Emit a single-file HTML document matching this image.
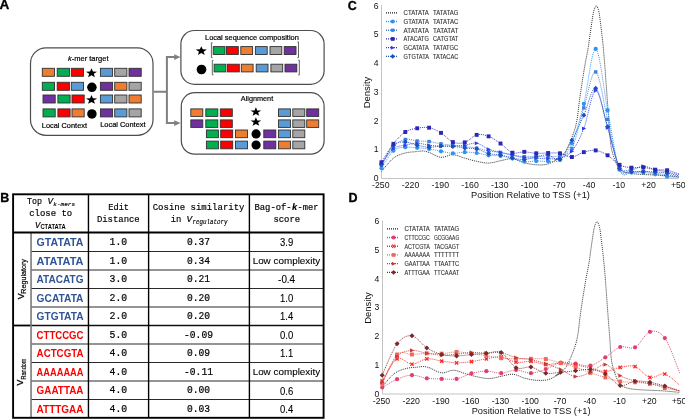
<!DOCTYPE html>
<html><head><meta charset="utf-8"><style>
html,body{margin:0;padding:0;background:#fff;width:685px;height:419px;overflow:hidden}
svg{display:block;filter:blur(0.3px)}

</style></head><body>
<svg width="685" height="419" viewBox="0 0 685 419">
<rect width="685" height="419" fill="#fff"/>
<text x="-0.60" y="9.20" font-family="Liberation Sans" font-size="13.6" font-weight="bold" fill="#000" text-anchor="start" stroke="#000" stroke-width="0.3">A</text>
<text x="0.20" y="201.50" font-family="Liberation Sans" font-size="12.5" font-weight="bold" fill="#000" text-anchor="start" stroke="#000" stroke-width="0.3">B</text>
<text x="347.80" y="10.30" font-family="Liberation Sans" font-size="12.5" font-weight="bold" fill="#000" text-anchor="start" stroke="#000" stroke-width="0.3">C</text>
<text x="348.50" y="201.60" font-family="Liberation Sans" font-size="12.5" font-weight="bold" fill="#000" text-anchor="start" stroke="#000" stroke-width="0.3">D</text>
<rect x="30.5" y="47.9" width="122.5" height="87.4" rx="15.5" ry="15.5" fill="none" stroke="#4d4d4d" stroke-width="1.2"/>
<rect x="180.9" y="30.5" width="143.2" height="53.8" rx="13.5" ry="13.5" fill="none" stroke="#4d4d4d" stroke-width="1.2"/>
<rect x="181.3" y="92.6" width="142.8" height="61.6" rx="13.5" ry="13.5" fill="none" stroke="#4d4d4d" stroke-width="1.2"/>
<path d="M153.5 91.8 H166.9 M166.9 56.1 V124.1 M166 57.1 H175 M166 123.1 H175" stroke="#808080" stroke-width="2" fill="none"/>
<polygon points="174.2,54.2 180.6,57.1 174.2,60.0" fill="#808080"/>
<polygon points="174.2,120.2 180.6,123.1 174.2,126.0" fill="#808080"/>
<text x="68.00" y="60.90" font-family="Liberation Sans" font-size="8.0" font-weight="normal" fill="#000" text-anchor="start" textLength="40.50" lengthAdjust="spacingAndGlyphs" stroke="#000" stroke-width="0.2"><tspan font-style="italic">k</tspan>-mer target</text>
<rect x="42.30" y="68.30" width="12.20" height="8.00" fill="#ED7D31" stroke="#303030" stroke-width="0.9"/>
<rect x="57.20" y="68.30" width="12.20" height="8.00" fill="#00B050" stroke="#303030" stroke-width="0.9"/>
<rect x="71.30" y="68.30" width="12.20" height="8.00" fill="#FF0000" stroke="#303030" stroke-width="0.9"/>
<polygon points="91.50,68.34 92.94,71.55 97.05,71.70 93.83,73.83 94.93,77.13 91.50,75.24 88.07,77.13 89.17,73.83 85.95,71.70 90.06,71.55" fill="#000"/>
<rect x="100.40" y="68.30" width="12.20" height="8.00" fill="#5B9BD5" stroke="#303030" stroke-width="0.9"/>
<rect x="114.70" y="68.30" width="12.20" height="8.00" fill="#A5A5A5" stroke="#303030" stroke-width="0.9"/>
<rect x="129.00" y="68.30" width="12.20" height="8.00" fill="#7030A0" stroke="#303030" stroke-width="0.9"/>
<rect x="42.30" y="82.30" width="12.20" height="8.00" fill="#00B050" stroke="#303030" stroke-width="0.9"/>
<rect x="57.20" y="82.30" width="12.20" height="8.00" fill="#FF0000" stroke="#303030" stroke-width="0.9"/>
<rect x="71.30" y="82.30" width="12.20" height="8.00" fill="#5B9BD5" stroke="#303030" stroke-width="0.9"/>
<circle cx="91.90" cy="87.30" r="4.75" fill="#000"/>
<rect x="100.40" y="82.30" width="12.20" height="8.00" fill="#7030A0" stroke="#303030" stroke-width="0.9"/>
<rect x="114.70" y="82.30" width="12.20" height="8.00" fill="#ED7D31" stroke="#303030" stroke-width="0.9"/>
<rect x="129.00" y="82.30" width="12.20" height="8.00" fill="#A5A5A5" stroke="#303030" stroke-width="0.9"/>
<rect x="43.00" y="95.00" width="12.20" height="8.00" fill="#7030A0" stroke="#303030" stroke-width="0.9"/>
<rect x="57.90" y="95.00" width="12.20" height="8.00" fill="#00B050" stroke="#303030" stroke-width="0.9"/>
<rect x="72.00" y="95.00" width="12.20" height="8.00" fill="#FF0000" stroke="#303030" stroke-width="0.9"/>
<polygon points="91.50,95.04 92.94,98.25 97.05,98.40 93.83,100.53 94.93,103.83 91.50,101.94 88.07,103.83 89.17,100.53 85.95,98.40 90.06,98.25" fill="#000"/>
<rect x="100.40" y="95.00" width="12.20" height="8.00" fill="#5B9BD5" stroke="#303030" stroke-width="0.9"/>
<rect x="114.70" y="95.00" width="12.20" height="8.00" fill="#A5A5A5" stroke="#303030" stroke-width="0.9"/>
<rect x="129.00" y="95.00" width="12.20" height="8.00" fill="#ED7D31" stroke="#303030" stroke-width="0.9"/>
<rect x="43.00" y="108.90" width="12.20" height="8.00" fill="#00B050" stroke="#303030" stroke-width="0.9"/>
<rect x="57.90" y="108.90" width="12.20" height="8.00" fill="#FF0000" stroke="#303030" stroke-width="0.9"/>
<rect x="72.00" y="108.90" width="12.20" height="8.00" fill="#ED7D31" stroke="#303030" stroke-width="0.9"/>
<circle cx="91.90" cy="113.90" r="4.75" fill="#000"/>
<rect x="100.40" y="108.90" width="12.20" height="8.00" fill="#7030A0" stroke="#303030" stroke-width="0.9"/>
<rect x="114.70" y="108.90" width="12.20" height="8.00" fill="#5B9BD5" stroke="#303030" stroke-width="0.9"/>
<rect x="129.00" y="108.90" width="12.20" height="8.00" fill="#A5A5A5" stroke="#303030" stroke-width="0.9"/>
<text x="41.80" y="127.90" font-family="Liberation Sans" font-size="7.9" font-weight="normal" fill="#000" text-anchor="start" textLength="45.20" lengthAdjust="spacingAndGlyphs" stroke="#000" stroke-width="0.2">Local Context</text>
<text x="100.20" y="127.00" font-family="Liberation Sans" font-size="7.9" font-weight="normal" fill="#000" text-anchor="start" textLength="45.40" lengthAdjust="spacingAndGlyphs" stroke="#000" stroke-width="0.2">Local Context</text>
<text x="205.00" y="39.70" font-family="Liberation Sans" font-size="7.9" font-weight="normal" fill="#000" text-anchor="start" textLength="93.80" lengthAdjust="spacingAndGlyphs" stroke="#000" stroke-width="0.2">Local sequence composition</text>
<polygon points="201.30,46.14 202.74,49.35 206.85,49.50 203.63,51.63 204.73,54.93 201.30,53.04 197.87,54.93 198.97,51.63 195.75,49.50 199.86,49.35" fill="#000"/>
<circle cx="201.50" cy="69.50" r="4.85" fill="#000"/>
<rect x="213.20" y="46.60" width="11.80" height="7.90" fill="#00B050" stroke="#303030" stroke-width="0.9"/>
<rect x="226.50" y="46.60" width="11.80" height="7.90" fill="#FF0000" stroke="#303030" stroke-width="0.9"/>
<rect x="240.80" y="46.60" width="11.80" height="7.90" fill="#ED7D31" stroke="#303030" stroke-width="0.9"/>
<rect x="255.40" y="46.60" width="11.80" height="7.90" fill="#5B9BD5" stroke="#303030" stroke-width="0.9"/>
<rect x="270.00" y="46.60" width="11.80" height="7.90" fill="#A5A5A5" stroke="#303030" stroke-width="0.9"/>
<rect x="284.20" y="46.60" width="11.80" height="7.90" fill="#7030A0" stroke="#303030" stroke-width="0.9"/>
<rect x="214.10" y="64.20" width="11.80" height="7.70" fill="#00B050" stroke="#303030" stroke-width="0.9"/>
<rect x="227.50" y="64.20" width="11.80" height="7.70" fill="#FF0000" stroke="#303030" stroke-width="0.9"/>
<rect x="241.30" y="64.20" width="11.80" height="7.70" fill="#ED7D31" stroke="#303030" stroke-width="0.9"/>
<rect x="256.20" y="64.20" width="11.80" height="7.70" fill="#5B9BD5" stroke="#303030" stroke-width="0.9"/>
<rect x="270.90" y="64.20" width="11.80" height="7.70" fill="#A5A5A5" stroke="#303030" stroke-width="0.9"/>
<rect x="285.00" y="64.20" width="11.80" height="7.70" fill="#7030A0" stroke="#303030" stroke-width="0.9"/>
<path d="M212.6 42.8 H211.4 V57.6 H212.6 M297.4 41.9 H298.5 V57.6 H297.4" stroke="#555" stroke-width="0.9" fill="none"/>
<path d="M213.5 60.4 H212.3 V74.8 H213.5 M298.2 60.2 H299.3 V75.0 H298.2" stroke="#555" stroke-width="0.9" fill="none"/>
<text x="240.80" y="101.30" font-family="Liberation Sans" font-size="7.9" font-weight="normal" fill="#000" text-anchor="start" textLength="32.40" lengthAdjust="spacingAndGlyphs" stroke="#000" stroke-width="0.2">Alignment</text>
<rect x="190.80" y="108.90" width="12.00" height="7.50" fill="#ED7D31" stroke="#303030" stroke-width="0.9"/>
<rect x="205.80" y="108.90" width="12.00" height="7.50" fill="#00B050" stroke="#303030" stroke-width="0.9"/>
<rect x="220.30" y="108.90" width="12.00" height="7.50" fill="#FF0000" stroke="#303030" stroke-width="0.9"/>
<rect x="278.50" y="108.90" width="12.00" height="7.50" fill="#5B9BD5" stroke="#303030" stroke-width="0.9"/>
<rect x="292.80" y="108.90" width="12.00" height="7.50" fill="#A5A5A5" stroke="#303030" stroke-width="0.9"/>
<rect x="306.70" y="108.90" width="12.00" height="7.50" fill="#7030A0" stroke="#303030" stroke-width="0.9"/>
<rect x="190.80" y="119.90" width="12.00" height="7.50" fill="#7030A0" stroke="#303030" stroke-width="0.9"/>
<rect x="205.80" y="119.90" width="12.00" height="7.50" fill="#00B050" stroke="#303030" stroke-width="0.9"/>
<rect x="220.30" y="119.90" width="12.00" height="7.50" fill="#FF0000" stroke="#303030" stroke-width="0.9"/>
<rect x="278.50" y="119.90" width="12.00" height="7.50" fill="#5B9BD5" stroke="#303030" stroke-width="0.9"/>
<rect x="292.80" y="119.90" width="12.00" height="7.50" fill="#A5A5A5" stroke="#303030" stroke-width="0.9"/>
<rect x="306.70" y="119.90" width="12.00" height="7.50" fill="#ED7D31" stroke="#303030" stroke-width="0.9"/>
<rect x="206.40" y="130.00" width="12.00" height="7.70" fill="#00B050" stroke="#303030" stroke-width="0.9"/>
<rect x="220.70" y="130.00" width="12.00" height="7.70" fill="#FF0000" stroke="#303030" stroke-width="0.9"/>
<rect x="235.50" y="130.00" width="12.00" height="7.70" fill="#ED7D31" stroke="#303030" stroke-width="0.9"/>
<rect x="263.80" y="130.00" width="12.00" height="7.70" fill="#7030A0" stroke="#303030" stroke-width="0.9"/>
<rect x="278.50" y="130.00" width="12.00" height="7.70" fill="#5B9BD5" stroke="#303030" stroke-width="0.9"/>
<rect x="292.80" y="130.00" width="12.00" height="7.70" fill="#A5A5A5" stroke="#303030" stroke-width="0.9"/>
<rect x="206.40" y="141.10" width="12.00" height="7.70" fill="#00B050" stroke="#303030" stroke-width="0.9"/>
<rect x="220.70" y="141.10" width="12.00" height="7.70" fill="#FF0000" stroke="#303030" stroke-width="0.9"/>
<rect x="235.50" y="141.10" width="12.00" height="7.70" fill="#5B9BD5" stroke="#303030" stroke-width="0.9"/>
<rect x="263.80" y="141.10" width="12.00" height="7.70" fill="#7030A0" stroke="#303030" stroke-width="0.9"/>
<rect x="278.50" y="141.10" width="12.00" height="7.70" fill="#ED7D31" stroke="#303030" stroke-width="0.9"/>
<rect x="292.80" y="141.10" width="12.00" height="7.70" fill="#A5A5A5" stroke="#303030" stroke-width="0.9"/>
<polygon points="255.90,107.32 257.29,110.41 261.24,110.55 258.14,112.61 259.20,115.79 255.90,113.97 252.60,115.79 253.66,112.61 250.56,110.55 254.51,110.41" fill="#000"/>
<polygon points="255.90,117.32 257.29,120.41 261.24,120.55 258.14,122.61 259.20,125.79 255.90,123.97 252.60,125.79 253.66,122.61 250.56,120.55 254.51,120.41" fill="#000"/>
<circle cx="256.10" cy="133.90" r="4.60" fill="#000"/>
<circle cx="256.10" cy="145.00" r="4.60" fill="#000"/>
<line x1="31" y1="251.42" x2="323.6" y2="251.42" stroke="#2a2a2a" stroke-width="1.05"/>
<line x1="31" y1="269.94" x2="323.6" y2="269.94" stroke="#2a2a2a" stroke-width="1.05"/>
<line x1="31" y1="288.46" x2="323.6" y2="288.46" stroke="#2a2a2a" stroke-width="1.05"/>
<line x1="31" y1="306.98" x2="323.6" y2="306.98" stroke="#2a2a2a" stroke-width="1.05"/>
<line x1="31" y1="344.02" x2="323.6" y2="344.02" stroke="#2a2a2a" stroke-width="1.05"/>
<line x1="31" y1="362.54" x2="323.6" y2="362.54" stroke="#2a2a2a" stroke-width="1.05"/>
<line x1="31" y1="381.06" x2="323.6" y2="381.06" stroke="#2a2a2a" stroke-width="1.05"/>
<line x1="31" y1="399.58" x2="323.6" y2="399.58" stroke="#2a2a2a" stroke-width="1.05"/>
<line x1="13.1" y1="325.50" x2="31.5" y2="325.50" stroke="#000" stroke-width="1.8"/>
<line x1="31" y1="325.50" x2="323.6" y2="325.50" stroke="#111" stroke-width="1.4"/>
<line x1="31.05" y1="232.5" x2="31.05" y2="417.8" stroke="#7a7a7a" stroke-width="1.6"/>
<line x1="88.45" y1="194.3" x2="88.45" y2="417.8" stroke="#000" stroke-width="1.4"/>
<line x1="148.6" y1="194.3" x2="148.6" y2="417.8" stroke="#000" stroke-width="1.4"/>
<line x1="249.4" y1="194.3" x2="249.4" y2="417.8" stroke="#000" stroke-width="1.4"/>
<line x1="13.1" y1="232.5" x2="323.6" y2="232.5" stroke="#000" stroke-width="1.8"/>
<rect x="13.1" y="194.3" width="310.50" height="223.50" fill="none" stroke="#000" stroke-width="1.9"/>
<text x="27.00" y="204.30" font-family="Liberation Mono" font-size="9.8" font-weight="normal" fill="#000" text-anchor="start" textLength="15.00" lengthAdjust="spacingAndGlyphs" stroke="#000" stroke-width="0.18">Top</text>
<text x="47.60" y="204.30" font-family="Liberation Mono" font-size="9.8" font-weight="normal" fill="#000" text-anchor="start" textLength="5.60" lengthAdjust="spacingAndGlyphs" font-style="italic" stroke="#000" stroke-width="0.18">V</text>
<text x="53.30" y="205.60" font-family="Liberation Mono" font-size="6.0" font-weight="normal" fill="#000" text-anchor="start" textLength="21.80" lengthAdjust="spacingAndGlyphs" font-style="italic" stroke="#000" stroke-width="0.15">k-mers</text>
<text x="29.20" y="216.00" font-family="Liberation Mono" font-size="9.8" font-weight="normal" fill="#000" text-anchor="start" textLength="43.00" lengthAdjust="spacingAndGlyphs" stroke="#000" stroke-width="0.18">close to</text>
<text x="35.00" y="227.80" font-family="Liberation Mono" font-size="9.8" font-weight="normal" fill="#000" text-anchor="start" textLength="5.30" lengthAdjust="spacingAndGlyphs" font-style="italic" stroke="#000" stroke-width="0.18">V</text>
<text x="40.40" y="228.80" font-family="Liberation Sans" font-size="6.6" font-weight="bold" fill="#000" text-anchor="start" textLength="25.20" lengthAdjust="spacingAndGlyphs">CTATATA</text>
<text x="108.20" y="209.80" font-family="Liberation Mono" font-size="9.8" font-weight="normal" fill="#000" text-anchor="start" textLength="20.90" lengthAdjust="spacingAndGlyphs" stroke="#000" stroke-width="0.18">Edit</text>
<text x="96.90" y="222.20" font-family="Liberation Mono" font-size="9.8" font-weight="normal" fill="#000" text-anchor="start" textLength="42.80" lengthAdjust="spacingAndGlyphs" stroke="#000" stroke-width="0.18">Distance</text>
<text x="152.70" y="209.80" font-family="Liberation Mono" font-size="9.8" font-weight="normal" fill="#000" text-anchor="start" textLength="91.80" lengthAdjust="spacingAndGlyphs" stroke="#000" stroke-width="0.18">Cosine similarity</text>
<text x="170.80" y="222.20" font-family="Liberation Mono" font-size="9.8" font-weight="normal" fill="#000" text-anchor="start" textLength="10.60" lengthAdjust="spacingAndGlyphs" stroke="#000" stroke-width="0.18">in</text>
<text x="186.50" y="222.20" font-family="Liberation Mono" font-size="9.8" font-weight="normal" fill="#000" text-anchor="start" textLength="5.60" lengthAdjust="spacingAndGlyphs" font-style="italic" stroke="#000" stroke-width="0.18">V</text>
<text x="192.50" y="223.80" font-family="Liberation Mono" font-size="6.8" font-weight="normal" fill="#000" text-anchor="start" textLength="35.00" lengthAdjust="spacingAndGlyphs" font-style="italic" stroke="#000" stroke-width="0.15">regulatory</text>
<text x="254.40" y="209.80" font-family="Liberation Mono" font-size="9.8" font-weight="normal" fill="#000" text-anchor="start" textLength="37.30" lengthAdjust="spacingAndGlyphs" stroke="#000" stroke-width="0.18">Bag-of-</text>
<text x="292.00" y="209.80" font-family="Liberation Mono" font-size="9.8" font-weight="bold" fill="#000" text-anchor="start" textLength="5.30" lengthAdjust="spacingAndGlyphs" font-style="italic" stroke="#000" stroke-width="0.18">k</text>
<text x="297.50" y="209.80" font-family="Liberation Mono" font-size="9.8" font-weight="normal" fill="#000" text-anchor="start" textLength="21.00" lengthAdjust="spacingAndGlyphs" stroke="#000" stroke-width="0.18">-mer</text>
<text x="273.40" y="222.20" font-family="Liberation Mono" font-size="9.8" font-weight="normal" fill="#000" text-anchor="start" textLength="26.80" lengthAdjust="spacingAndGlyphs" stroke="#000" stroke-width="0.18">score</text>
<g transform="translate(23.7,299.3) rotate(-90)"><text x="0" y="0" font-family="Liberation Sans" font-size="8.6" stroke="#000" stroke-width="0.3" textLength="5.8" lengthAdjust="spacingAndGlyphs">V</text><text x="5.6" y="2.6" font-family="Liberation Sans" font-size="6.9" stroke="#000" stroke-width="0.2" textLength="34.6" lengthAdjust="spacingAndGlyphs">Regulatory</text></g>
<g transform="translate(22.9,385.4) rotate(-90)"><text x="0" y="0" font-family="Liberation Sans" font-size="8.2" stroke="#000" stroke-width="0.3" textLength="5.8" lengthAdjust="spacingAndGlyphs">V</text><text x="5.9" y="2.9" font-family="Liberation Sans" font-size="6.6" stroke="#000" stroke-width="0.2" textLength="20.9" lengthAdjust="spacingAndGlyphs">Random</text></g>
<text x="36.60" y="245.91" font-family="Liberation Sans" font-size="11.8" font-weight="bold" fill="#2F5597" text-anchor="start" textLength="46.90" lengthAdjust="spacingAndGlyphs">GTATATA</text>
<text x="118.40" y="244.76" font-family="Liberation Mono" font-size="10.4" font-weight="normal" fill="#000" text-anchor="middle" textLength="17.60" lengthAdjust="spacingAndGlyphs" stroke="#000" stroke-width="0.22">1.0</text>
<text x="198.50" y="244.76" font-family="Liberation Mono" font-size="10.4" font-weight="normal" fill="#000" text-anchor="middle" textLength="23.10" lengthAdjust="spacingAndGlyphs" stroke="#000" stroke-width="0.22">0.37</text>
<text x="286.60" y="245.96" font-family="Liberation Sans" font-size="10.6" font-weight="normal" fill="#000" text-anchor="middle" textLength="13.20" lengthAdjust="spacingAndGlyphs" stroke="#000" stroke-width="0.1">3.9</text>
<text x="36.60" y="264.83" font-family="Liberation Sans" font-size="11.8" font-weight="bold" fill="#2F5597" text-anchor="start" textLength="46.90" lengthAdjust="spacingAndGlyphs">ATATATA</text>
<text x="118.40" y="263.68" font-family="Liberation Mono" font-size="10.4" font-weight="normal" fill="#000" text-anchor="middle" textLength="17.60" lengthAdjust="spacingAndGlyphs" stroke="#000" stroke-width="0.22">1.0</text>
<text x="198.50" y="263.68" font-family="Liberation Mono" font-size="10.4" font-weight="normal" fill="#000" text-anchor="middle" textLength="23.10" lengthAdjust="spacingAndGlyphs" stroke="#000" stroke-width="0.22">0.34</text>
<text x="286.40" y="264.28" font-family="Liberation Sans" font-size="9.8" font-weight="normal" fill="#000" text-anchor="middle" textLength="67.50" lengthAdjust="spacingAndGlyphs" stroke="#000" stroke-width="0.1">Low complexity</text>
<text x="36.60" y="283.35" font-family="Liberation Sans" font-size="11.8" font-weight="bold" fill="#2F5597" text-anchor="start" textLength="46.90" lengthAdjust="spacingAndGlyphs">ATACATG</text>
<text x="118.40" y="282.20" font-family="Liberation Mono" font-size="10.4" font-weight="normal" fill="#000" text-anchor="middle" textLength="17.60" lengthAdjust="spacingAndGlyphs" stroke="#000" stroke-width="0.22">3.0</text>
<text x="198.50" y="282.20" font-family="Liberation Mono" font-size="10.4" font-weight="normal" fill="#000" text-anchor="middle" textLength="23.10" lengthAdjust="spacingAndGlyphs" stroke="#000" stroke-width="0.22">0.21</text>
<text x="286.60" y="283.40" font-family="Liberation Sans" font-size="10.6" font-weight="normal" fill="#000" text-anchor="middle" textLength="17.00" lengthAdjust="spacingAndGlyphs" stroke="#000" stroke-width="0.1">-0.4</text>
<text x="36.60" y="301.87" font-family="Liberation Sans" font-size="11.8" font-weight="bold" fill="#2F5597" text-anchor="start" textLength="46.90" lengthAdjust="spacingAndGlyphs">GCATATA</text>
<text x="118.40" y="300.72" font-family="Liberation Mono" font-size="10.4" font-weight="normal" fill="#000" text-anchor="middle" textLength="17.60" lengthAdjust="spacingAndGlyphs" stroke="#000" stroke-width="0.22">2.0</text>
<text x="198.50" y="300.72" font-family="Liberation Mono" font-size="10.4" font-weight="normal" fill="#000" text-anchor="middle" textLength="23.10" lengthAdjust="spacingAndGlyphs" stroke="#000" stroke-width="0.22">0.20</text>
<text x="286.60" y="301.92" font-family="Liberation Sans" font-size="10.6" font-weight="normal" fill="#000" text-anchor="middle" textLength="13.20" lengthAdjust="spacingAndGlyphs" stroke="#000" stroke-width="0.1">1.0</text>
<text x="36.60" y="320.39" font-family="Liberation Sans" font-size="11.8" font-weight="bold" fill="#2F5597" text-anchor="start" textLength="46.90" lengthAdjust="spacingAndGlyphs">GTGTATA</text>
<text x="118.40" y="319.24" font-family="Liberation Mono" font-size="10.4" font-weight="normal" fill="#000" text-anchor="middle" textLength="17.60" lengthAdjust="spacingAndGlyphs" stroke="#000" stroke-width="0.22">2.0</text>
<text x="198.50" y="319.24" font-family="Liberation Mono" font-size="10.4" font-weight="normal" fill="#000" text-anchor="middle" textLength="23.10" lengthAdjust="spacingAndGlyphs" stroke="#000" stroke-width="0.22">0.20</text>
<text x="286.60" y="320.44" font-family="Liberation Sans" font-size="10.6" font-weight="normal" fill="#000" text-anchor="middle" textLength="13.20" lengthAdjust="spacingAndGlyphs" stroke="#000" stroke-width="0.1">1.4</text>
<text x="36.60" y="338.91" font-family="Liberation Sans" font-size="11.8" font-weight="bold" fill="#FF0000" text-anchor="start" textLength="46.90" lengthAdjust="spacingAndGlyphs">CTTCCGC</text>
<text x="118.40" y="337.76" font-family="Liberation Mono" font-size="10.4" font-weight="normal" fill="#000" text-anchor="middle" textLength="17.60" lengthAdjust="spacingAndGlyphs" stroke="#000" stroke-width="0.22">5.0</text>
<text x="198.50" y="337.76" font-family="Liberation Mono" font-size="10.4" font-weight="normal" fill="#000" text-anchor="middle" textLength="28.95" lengthAdjust="spacingAndGlyphs" stroke="#000" stroke-width="0.22">-0.09</text>
<text x="286.60" y="338.96" font-family="Liberation Sans" font-size="10.6" font-weight="normal" fill="#000" text-anchor="middle" textLength="13.20" lengthAdjust="spacingAndGlyphs" stroke="#000" stroke-width="0.1">0.0</text>
<text x="36.60" y="357.43" font-family="Liberation Sans" font-size="11.8" font-weight="bold" fill="#FF0000" text-anchor="start" textLength="46.90" lengthAdjust="spacingAndGlyphs">ACTCGTA</text>
<text x="118.40" y="356.28" font-family="Liberation Mono" font-size="10.4" font-weight="normal" fill="#000" text-anchor="middle" textLength="17.60" lengthAdjust="spacingAndGlyphs" stroke="#000" stroke-width="0.22">4.0</text>
<text x="198.50" y="356.28" font-family="Liberation Mono" font-size="10.4" font-weight="normal" fill="#000" text-anchor="middle" textLength="23.10" lengthAdjust="spacingAndGlyphs" stroke="#000" stroke-width="0.22">0.09</text>
<text x="286.60" y="357.48" font-family="Liberation Sans" font-size="10.6" font-weight="normal" fill="#000" text-anchor="middle" textLength="13.20" lengthAdjust="spacingAndGlyphs" stroke="#000" stroke-width="0.1">1.1</text>
<text x="36.60" y="375.95" font-family="Liberation Sans" font-size="11.8" font-weight="bold" fill="#FF0000" text-anchor="start" textLength="46.90" lengthAdjust="spacingAndGlyphs">AAAAAAA</text>
<text x="118.40" y="374.80" font-family="Liberation Mono" font-size="10.4" font-weight="normal" fill="#000" text-anchor="middle" textLength="17.60" lengthAdjust="spacingAndGlyphs" stroke="#000" stroke-width="0.22">4.0</text>
<text x="198.50" y="374.80" font-family="Liberation Mono" font-size="10.4" font-weight="normal" fill="#000" text-anchor="middle" textLength="28.95" lengthAdjust="spacingAndGlyphs" stroke="#000" stroke-width="0.22">-0.11</text>
<text x="286.40" y="375.40" font-family="Liberation Sans" font-size="9.8" font-weight="normal" fill="#000" text-anchor="middle" textLength="67.50" lengthAdjust="spacingAndGlyphs" stroke="#000" stroke-width="0.1">Low complexity</text>
<text x="36.60" y="394.47" font-family="Liberation Sans" font-size="11.8" font-weight="bold" fill="#FF0000" text-anchor="start" textLength="46.90" lengthAdjust="spacingAndGlyphs">GAATTAA</text>
<text x="118.40" y="393.32" font-family="Liberation Mono" font-size="10.4" font-weight="normal" fill="#000" text-anchor="middle" textLength="17.60" lengthAdjust="spacingAndGlyphs" stroke="#000" stroke-width="0.22">4.0</text>
<text x="198.50" y="393.32" font-family="Liberation Mono" font-size="10.4" font-weight="normal" fill="#000" text-anchor="middle" textLength="23.10" lengthAdjust="spacingAndGlyphs" stroke="#000" stroke-width="0.22">0.00</text>
<text x="286.60" y="394.52" font-family="Liberation Sans" font-size="10.6" font-weight="normal" fill="#000" text-anchor="middle" textLength="13.20" lengthAdjust="spacingAndGlyphs" stroke="#000" stroke-width="0.1">0.6</text>
<text x="36.60" y="412.99" font-family="Liberation Sans" font-size="11.8" font-weight="bold" fill="#FF0000" text-anchor="start" textLength="46.90" lengthAdjust="spacingAndGlyphs">ATTTGAA</text>
<text x="118.40" y="411.84" font-family="Liberation Mono" font-size="10.4" font-weight="normal" fill="#000" text-anchor="middle" textLength="17.60" lengthAdjust="spacingAndGlyphs" stroke="#000" stroke-width="0.22">4.0</text>
<text x="198.50" y="411.84" font-family="Liberation Mono" font-size="10.4" font-weight="normal" fill="#000" text-anchor="middle" textLength="23.10" lengthAdjust="spacingAndGlyphs" stroke="#000" stroke-width="0.22">0.03</text>
<text x="286.60" y="413.04" font-family="Liberation Sans" font-size="10.6" font-weight="normal" fill="#000" text-anchor="middle" textLength="13.20" lengthAdjust="spacingAndGlyphs" stroke="#000" stroke-width="0.1">0.4</text>
<line x1="381.50" y1="5.10" x2="381.50" y2="178.30" stroke="#c4c4c4" stroke-width="1"/>
<line x1="381.50" y1="178.50" x2="678.70" y2="178.50" stroke="#c4c4c4" stroke-width="1.2"/>
<text x="378.50" y="181.05" font-family="Liberation Sans" font-size="8.6" font-weight="normal" fill="#111" text-anchor="end">0</text>
<text x="378.50" y="152.30" font-family="Liberation Sans" font-size="8.6" font-weight="normal" fill="#111" text-anchor="end">1</text>
<text x="378.50" y="123.55" font-family="Liberation Sans" font-size="8.6" font-weight="normal" fill="#111" text-anchor="end">2</text>
<text x="378.50" y="94.80" font-family="Liberation Sans" font-size="8.6" font-weight="normal" fill="#111" text-anchor="end">3</text>
<text x="378.50" y="66.05" font-family="Liberation Sans" font-size="8.6" font-weight="normal" fill="#111" text-anchor="end">4</text>
<text x="378.50" y="37.30" font-family="Liberation Sans" font-size="8.6" font-weight="normal" fill="#111" text-anchor="end">5</text>
<text x="378.50" y="8.55" font-family="Liberation Sans" font-size="8.6" font-weight="normal" fill="#111" text-anchor="end">6</text>
<text x="380.80" y="188.20" font-family="Liberation Sans" font-size="8.7" font-weight="normal" fill="#111" text-anchor="middle">-250</text>
<text x="410.55" y="188.20" font-family="Liberation Sans" font-size="8.7" font-weight="normal" fill="#111" text-anchor="middle">-220</text>
<text x="440.30" y="188.20" font-family="Liberation Sans" font-size="8.7" font-weight="normal" fill="#111" text-anchor="middle">-190</text>
<text x="470.05" y="188.20" font-family="Liberation Sans" font-size="8.7" font-weight="normal" fill="#111" text-anchor="middle">-160</text>
<text x="499.80" y="188.20" font-family="Liberation Sans" font-size="8.7" font-weight="normal" fill="#111" text-anchor="middle">-130</text>
<text x="529.55" y="188.20" font-family="Liberation Sans" font-size="8.7" font-weight="normal" fill="#111" text-anchor="middle">-100</text>
<text x="559.31" y="188.20" font-family="Liberation Sans" font-size="8.7" font-weight="normal" fill="#111" text-anchor="middle">-70</text>
<text x="589.06" y="188.20" font-family="Liberation Sans" font-size="8.7" font-weight="normal" fill="#111" text-anchor="middle">-40</text>
<text x="618.81" y="188.20" font-family="Liberation Sans" font-size="8.7" font-weight="normal" fill="#111" text-anchor="middle">-10</text>
<text x="648.56" y="188.20" font-family="Liberation Sans" font-size="8.7" font-weight="normal" fill="#111" text-anchor="middle">+20</text>
<text x="678.31" y="188.20" font-family="Liberation Sans" font-size="8.7" font-weight="normal" fill="#111" text-anchor="middle">+50</text>
<text x="471.00" y="198.20" font-family="Liberation Sans" font-size="9.0" font-weight="normal" fill="#111" text-anchor="start" textLength="118.90" lengthAdjust="spacingAndGlyphs">Position Relative to TSS (+1)</text>
<text transform="translate(370.20,108.30) rotate(-90)" font-family="Liberation Sans" font-size="9" fill="#111" textLength="31.6" lengthAdjust="spacingAndGlyphs">Density</text>
<path d="M381.50 171.40 C383.48 169.20 389.43 161.24 393.40 158.18 C397.37 155.11 401.33 154.10 405.30 153.00 C409.27 151.90 414.23 151.90 417.20 151.56 C420.18 151.23 421.17 150.84 423.15 150.99 C425.13 151.13 426.13 151.37 429.10 152.43 C432.08 153.48 437.04 156.93 441.00 157.31 C444.97 157.70 448.94 154.58 452.90 154.73 C456.87 154.87 460.84 157.07 464.80 158.18 C468.77 159.28 472.74 160.52 476.70 161.34 C480.67 162.15 484.64 163.16 488.60 163.06 C492.57 162.97 496.54 161.48 500.50 160.76 C504.47 160.04 508.44 158.41 512.40 158.75 C516.37 159.09 520.34 161.77 524.30 162.78 C528.27 163.78 532.24 164.60 536.21 164.79 C540.17 164.98 544.14 165.12 548.11 163.93 C552.07 162.73 558.86 158.27 560.01 157.60 C561.16 156.93 554.42 160.52 555.00 159.90 C555.58 159.28 561.30 156.16 563.50 153.86 C565.70 151.56 566.38 149.98 568.20 146.10 C570.02 142.22 572.88 135.27 574.40 130.58 C575.92 125.88 576.50 122.62 577.30 117.93 C578.10 113.23 578.42 108.20 579.20 102.40 C579.98 96.60 581.02 89.51 582.00 83.14 C582.98 76.76 584.07 70.06 585.10 64.16 C586.13 58.27 587.40 52.52 588.20 47.78 C589.00 43.03 589.33 39.68 589.90 35.70 C590.47 31.72 590.98 27.89 591.60 23.91 C592.22 19.94 592.82 14.86 593.60 11.84 C594.38 8.82 595.42 5.80 596.30 5.80 C597.18 5.80 598.18 8.82 598.90 11.84 C599.62 14.86 600.08 19.94 600.60 23.91 C601.12 27.89 601.55 31.72 602.00 35.70 C602.45 39.68 602.85 43.03 603.30 47.78 C603.75 52.52 604.23 58.27 604.70 64.16 C605.17 70.06 605.63 76.76 606.10 83.14 C606.57 89.51 607.02 96.03 607.50 102.40 C607.98 108.77 608.42 114.09 609.00 121.38 C609.58 128.66 609.90 139.39 611.00 146.10 C612.10 152.81 614.07 157.74 615.60 161.62 C617.13 165.51 618.23 167.52 620.20 169.39 C622.17 171.26 624.25 172.02 627.44 172.84 C630.63 173.65 635.38 173.94 639.34 174.28 C643.31 174.61 647.28 174.66 651.24 174.85 C655.21 175.04 658.51 175.09 663.14 175.43 C667.77 175.76 676.37 176.62 679.01 176.86" fill="none" stroke="#1a1a1a" stroke-width="0.9" stroke-dasharray="1 1"/>
<path d="M381.50 168.24 C383.48 165.31 389.43 154.20 393.40 150.70 C397.37 147.20 401.33 147.73 405.30 147.25 C409.27 146.77 413.23 147.54 417.20 147.83 C421.17 148.11 425.13 148.40 429.10 148.98 C433.07 149.55 437.04 150.56 441.00 151.28 C444.97 151.99 448.94 153.14 452.90 153.29 C456.87 153.43 460.84 152.19 464.80 152.14 C468.77 152.09 472.74 152.47 476.70 153.00 C480.67 153.53 484.64 154.82 488.60 155.30 C492.57 155.78 496.54 155.35 500.50 155.88 C504.47 156.40 508.44 157.50 512.40 158.46 C516.37 159.42 520.34 161.19 524.30 161.62 C528.27 162.06 532.24 161.10 536.21 161.05 C540.17 161.00 544.14 161.53 548.11 161.34 C552.07 161.15 556.04 162.92 560.01 159.90 C563.97 156.88 567.94 152.57 571.91 143.23 C575.87 133.88 579.84 119.55 583.81 103.84 C587.77 88.12 591.74 47.87 595.71 48.93 C599.67 49.98 603.64 90.04 607.61 110.16 C611.57 130.29 615.54 159.28 619.51 169.68 C623.47 180.07 627.44 172.07 631.41 172.55 C635.38 173.03 639.34 172.26 643.31 172.55 C647.28 172.84 651.24 173.60 655.21 174.28 C659.18 174.95 663.14 176.05 667.11 176.58 C671.08 177.10 677.03 177.29 679.01 177.44" fill="none" stroke="#2b93f5" stroke-width="0.9" stroke-dasharray="1 1"/>
<circle cx="381.50" cy="168.24" r="2.10" fill="#2b93f5"/>
<circle cx="393.40" cy="150.70" r="2.10" fill="#2b93f5"/>
<circle cx="405.30" cy="147.25" r="2.10" fill="#2b93f5"/>
<circle cx="417.20" cy="147.83" r="2.10" fill="#2b93f5"/>
<circle cx="429.10" cy="148.98" r="2.10" fill="#2b93f5"/>
<circle cx="441.00" cy="151.28" r="2.10" fill="#2b93f5"/>
<circle cx="452.90" cy="153.29" r="2.10" fill="#2b93f5"/>
<circle cx="464.80" cy="152.14" r="2.10" fill="#2b93f5"/>
<circle cx="476.70" cy="153.00" r="2.10" fill="#2b93f5"/>
<circle cx="488.60" cy="155.30" r="2.10" fill="#2b93f5"/>
<circle cx="500.50" cy="155.88" r="2.10" fill="#2b93f5"/>
<circle cx="512.40" cy="158.46" r="2.10" fill="#2b93f5"/>
<circle cx="524.30" cy="161.62" r="2.10" fill="#2b93f5"/>
<circle cx="536.21" cy="161.05" r="2.10" fill="#2b93f5"/>
<circle cx="548.11" cy="161.34" r="2.10" fill="#2b93f5"/>
<circle cx="560.01" cy="159.90" r="2.10" fill="#2b93f5"/>
<circle cx="571.91" cy="143.23" r="2.10" fill="#2b93f5"/>
<circle cx="583.81" cy="103.84" r="2.10" fill="#2b93f5"/>
<circle cx="595.71" cy="48.93" r="2.10" fill="#2b93f5"/>
<circle cx="607.61" cy="110.16" r="2.10" fill="#2b93f5"/>
<circle cx="619.51" cy="169.68" r="2.10" fill="#2b93f5"/>
<circle cx="631.41" cy="172.55" r="2.10" fill="#2b93f5"/>
<circle cx="643.31" cy="172.55" r="2.10" fill="#2b93f5"/>
<circle cx="655.21" cy="174.28" r="2.10" fill="#2b93f5"/>
<circle cx="667.11" cy="176.58" r="2.10" fill="#2b93f5"/>
<path d="M381.50 165.36 C383.48 162.25 389.43 150.99 393.40 146.68 C397.37 142.36 401.33 140.45 405.30 139.49 C409.27 138.53 413.23 140.59 417.20 140.93 C421.17 141.26 425.13 141.02 429.10 141.50 C433.07 141.98 437.04 143.18 441.00 143.80 C444.97 144.42 448.94 144.76 452.90 145.24 C456.87 145.72 460.84 146.20 464.80 146.68 C468.77 147.15 472.74 147.39 476.70 148.11 C480.67 148.83 484.64 150.27 488.60 150.99 C492.57 151.71 496.54 151.80 500.50 152.43 C504.47 153.05 508.44 154.01 512.40 154.73 C516.37 155.44 520.34 156.50 524.30 156.74 C528.27 156.98 532.24 156.11 536.21 156.16 C540.17 156.21 544.14 157.17 548.11 157.03 C552.07 156.88 556.04 156.74 560.01 155.30 C563.97 153.86 567.94 156.31 571.91 148.40 C575.87 140.49 579.84 120.61 583.81 107.86 C587.77 95.12 591.74 70.01 595.71 71.93 C599.67 73.84 603.64 103.17 607.61 119.36 C611.57 135.56 615.54 160.33 619.51 169.10 C623.47 177.87 627.44 171.59 631.41 171.98 C635.38 172.36 639.34 171.21 643.31 171.40 C647.28 171.59 651.24 172.55 655.21 173.12 C659.18 173.70 663.14 174.23 667.11 174.85 C671.08 175.47 677.03 176.53 679.01 176.86" fill="none" stroke="#3d7fdc" stroke-width="0.9" stroke-dasharray="1 1"/>
<rect x="379.80" y="163.66" width="3.40" height="3.40" fill="#3d7fdc"/>
<rect x="391.70" y="144.98" width="3.40" height="3.40" fill="#3d7fdc"/>
<rect x="403.60" y="137.79" width="3.40" height="3.40" fill="#3d7fdc"/>
<rect x="415.50" y="139.23" width="3.40" height="3.40" fill="#3d7fdc"/>
<rect x="427.40" y="139.80" width="3.40" height="3.40" fill="#3d7fdc"/>
<rect x="439.30" y="142.10" width="3.40" height="3.40" fill="#3d7fdc"/>
<rect x="451.20" y="143.54" width="3.40" height="3.40" fill="#3d7fdc"/>
<rect x="463.10" y="144.98" width="3.40" height="3.40" fill="#3d7fdc"/>
<rect x="475.00" y="146.41" width="3.40" height="3.40" fill="#3d7fdc"/>
<rect x="486.90" y="149.29" width="3.40" height="3.40" fill="#3d7fdc"/>
<rect x="498.80" y="150.73" width="3.40" height="3.40" fill="#3d7fdc"/>
<rect x="510.70" y="153.03" width="3.40" height="3.40" fill="#3d7fdc"/>
<rect x="522.60" y="155.04" width="3.40" height="3.40" fill="#3d7fdc"/>
<rect x="534.51" y="154.46" width="3.40" height="3.40" fill="#3d7fdc"/>
<rect x="546.41" y="155.33" width="3.40" height="3.40" fill="#3d7fdc"/>
<rect x="558.31" y="153.60" width="3.40" height="3.40" fill="#3d7fdc"/>
<rect x="570.21" y="146.70" width="3.40" height="3.40" fill="#3d7fdc"/>
<rect x="582.11" y="106.16" width="3.40" height="3.40" fill="#3d7fdc"/>
<rect x="594.01" y="70.23" width="3.40" height="3.40" fill="#3d7fdc"/>
<rect x="605.91" y="117.66" width="3.40" height="3.40" fill="#3d7fdc"/>
<rect x="617.81" y="167.40" width="3.40" height="3.40" fill="#3d7fdc"/>
<rect x="629.71" y="170.28" width="3.40" height="3.40" fill="#3d7fdc"/>
<rect x="641.61" y="169.70" width="3.40" height="3.40" fill="#3d7fdc"/>
<rect x="653.51" y="171.43" width="3.40" height="3.40" fill="#3d7fdc"/>
<rect x="665.41" y="173.15" width="3.40" height="3.40" fill="#3d7fdc"/>
<path d="M381.50 163.93 C383.48 161.39 389.43 151.80 393.40 148.69 C397.37 145.57 401.33 146.15 405.30 145.24 C409.27 144.33 413.23 143.23 417.20 143.23 C421.17 143.23 425.13 144.76 429.10 145.24 C433.07 145.72 437.04 145.96 441.00 146.10 C444.97 146.24 448.94 146.24 452.90 146.10 C456.87 145.96 460.84 145.72 464.80 145.24 C468.77 144.76 472.74 142.55 476.70 143.23 C480.67 143.90 484.64 147.73 488.60 149.26 C492.57 150.80 496.54 151.42 500.50 152.43 C504.47 153.43 508.44 154.44 512.40 155.30 C516.37 156.16 520.34 157.12 524.30 157.60 C528.27 158.08 532.24 157.98 536.21 158.18 C540.17 158.37 544.14 158.75 548.11 158.75 C552.07 158.75 556.04 159.42 560.01 158.18 C563.97 156.93 567.94 156.21 571.91 151.28 C575.87 146.34 579.84 138.67 583.81 128.56 C587.77 118.45 591.74 90.76 595.71 90.61 C599.67 90.47 603.64 115.00 607.61 127.70 C611.57 140.40 615.54 159.80 619.51 166.80 C623.47 173.80 627.44 169.77 631.41 169.68 C635.38 169.58 639.34 166.23 643.31 166.23 C647.28 166.23 651.24 168.72 655.21 169.68 C659.18 170.63 663.14 171.11 667.11 171.98 C671.08 172.84 677.03 174.37 679.01 174.85" fill="none" stroke="#2a3ef0" stroke-width="0.9" stroke-dasharray="1 1"/>
<polygon points="379.61,161.83 383.81,163.93 379.61,166.03" fill="#2a3ef0"/>
<polygon points="391.51,146.59 395.71,148.69 391.51,150.79" fill="#2a3ef0"/>
<polygon points="403.41,143.14 407.61,145.24 403.41,147.34" fill="#2a3ef0"/>
<polygon points="415.31,141.13 419.51,143.23 415.31,145.33" fill="#2a3ef0"/>
<polygon points="427.21,143.14 431.41,145.24 427.21,147.34" fill="#2a3ef0"/>
<polygon points="439.11,144.00 443.31,146.10 439.11,148.20" fill="#2a3ef0"/>
<polygon points="451.01,144.00 455.21,146.10 451.01,148.20" fill="#2a3ef0"/>
<polygon points="462.91,143.14 467.11,145.24 462.91,147.34" fill="#2a3ef0"/>
<polygon points="474.81,141.13 479.01,143.23 474.81,145.33" fill="#2a3ef0"/>
<polygon points="486.71,147.16 490.91,149.26 486.71,151.36" fill="#2a3ef0"/>
<polygon points="498.61,150.33 502.81,152.43 498.61,154.53" fill="#2a3ef0"/>
<polygon points="510.51,153.20 514.71,155.30 510.51,157.40" fill="#2a3ef0"/>
<polygon points="522.41,155.50 526.61,157.60 522.41,159.70" fill="#2a3ef0"/>
<polygon points="534.32,156.08 538.52,158.18 534.32,160.28" fill="#2a3ef0"/>
<polygon points="546.22,156.65 550.42,158.75 546.22,160.85" fill="#2a3ef0"/>
<polygon points="558.12,156.08 562.32,158.18 558.12,160.28" fill="#2a3ef0"/>
<polygon points="570.02,149.18 574.22,151.28 570.02,153.38" fill="#2a3ef0"/>
<polygon points="581.92,126.46 586.12,128.56 581.92,130.66" fill="#2a3ef0"/>
<polygon points="593.82,88.51 598.02,90.61 593.82,92.71" fill="#2a3ef0"/>
<polygon points="605.72,125.60 609.92,127.70 605.72,129.80" fill="#2a3ef0"/>
<polygon points="617.62,164.70 621.82,166.80 617.62,168.90" fill="#2a3ef0"/>
<polygon points="629.52,167.58 633.72,169.68 629.52,171.78" fill="#2a3ef0"/>
<polygon points="641.42,164.13 645.62,166.23 641.42,168.33" fill="#2a3ef0"/>
<polygon points="653.32,167.58 657.52,169.68 653.32,171.78" fill="#2a3ef0"/>
<polygon points="665.22,169.88 669.42,171.98 665.22,174.08" fill="#2a3ef0"/>
<path d="M381.50 164.50 C383.48 161.29 389.43 148.98 393.40 145.24 C397.37 141.50 401.33 142.08 405.30 142.08 C409.27 142.08 413.23 144.38 417.20 145.24 C421.17 146.10 425.13 147.11 429.10 147.25 C433.07 147.39 437.04 146.24 441.00 146.10 C444.97 145.96 448.94 146.05 452.90 146.39 C456.87 146.72 460.84 147.68 464.80 148.11 C468.77 148.54 472.74 148.06 476.70 148.98 C480.67 149.89 484.64 152.57 488.60 153.58 C492.57 154.58 496.54 154.29 500.50 155.01 C504.47 155.73 508.44 157.12 512.40 157.89 C516.37 158.65 520.34 159.80 524.30 159.61 C528.27 159.42 532.24 157.50 536.21 156.74 C540.17 155.97 544.14 154.58 548.11 155.01 C552.07 155.44 556.04 161.77 560.01 159.33 C563.97 156.88 567.94 147.68 571.91 140.35 C575.87 133.02 579.84 124.01 583.81 115.34 C587.77 106.66 591.74 86.40 595.71 88.31 C599.67 90.23 603.64 113.52 607.61 126.84 C611.57 140.16 615.54 160.81 619.51 168.24 C623.47 175.66 627.44 170.87 631.41 171.40 C635.38 171.93 639.34 171.30 643.31 171.40 C647.28 171.50 651.24 171.69 655.21 171.98 C659.18 172.26 663.14 172.45 667.11 173.12 C671.08 173.80 677.03 175.52 679.01 176.00" fill="none" stroke="#1f4fba" stroke-width="0.9" stroke-dasharray="1 1"/>
<polygon points="381.50,162.00 384.00,164.50 381.50,167.00 379.00,164.50" fill="#1f4fba"/>
<polygon points="393.40,142.74 395.90,145.24 393.40,147.74 390.90,145.24" fill="#1f4fba"/>
<polygon points="405.30,139.58 407.80,142.08 405.30,144.58 402.80,142.08" fill="#1f4fba"/>
<polygon points="417.20,142.74 419.70,145.24 417.20,147.74 414.70,145.24" fill="#1f4fba"/>
<polygon points="429.10,144.75 431.60,147.25 429.10,149.75 426.60,147.25" fill="#1f4fba"/>
<polygon points="441.00,143.60 443.50,146.10 441.00,148.60 438.50,146.10" fill="#1f4fba"/>
<polygon points="452.90,143.89 455.40,146.39 452.90,148.89 450.40,146.39" fill="#1f4fba"/>
<polygon points="464.80,145.61 467.30,148.11 464.80,150.61 462.30,148.11" fill="#1f4fba"/>
<polygon points="476.70,146.48 479.20,148.98 476.70,151.48 474.20,148.98" fill="#1f4fba"/>
<polygon points="488.60,151.08 491.10,153.58 488.60,156.08 486.10,153.58" fill="#1f4fba"/>
<polygon points="500.50,152.51 503.00,155.01 500.50,157.51 498.00,155.01" fill="#1f4fba"/>
<polygon points="512.40,155.39 514.90,157.89 512.40,160.39 509.90,157.89" fill="#1f4fba"/>
<polygon points="524.30,157.11 526.80,159.61 524.30,162.11 521.80,159.61" fill="#1f4fba"/>
<polygon points="536.21,154.24 538.71,156.74 536.21,159.24 533.71,156.74" fill="#1f4fba"/>
<polygon points="548.11,152.51 550.61,155.01 548.11,157.51 545.61,155.01" fill="#1f4fba"/>
<polygon points="560.01,156.83 562.51,159.33 560.01,161.83 557.51,159.33" fill="#1f4fba"/>
<polygon points="571.91,137.85 574.41,140.35 571.91,142.85 569.41,140.35" fill="#1f4fba"/>
<polygon points="583.81,112.84 586.31,115.34 583.81,117.84 581.31,115.34" fill="#1f4fba"/>
<polygon points="595.71,85.81 598.21,88.31 595.71,90.81 593.21,88.31" fill="#1f4fba"/>
<polygon points="607.61,124.34 610.11,126.84 607.61,129.34 605.11,126.84" fill="#1f4fba"/>
<polygon points="619.51,165.74 622.01,168.24 619.51,170.74 617.01,168.24" fill="#1f4fba"/>
<polygon points="631.41,168.90 633.91,171.40 631.41,173.90 628.91,171.40" fill="#1f4fba"/>
<polygon points="643.31,168.90 645.81,171.40 643.31,173.90 640.81,171.40" fill="#1f4fba"/>
<polygon points="655.21,169.48 657.71,171.98 655.21,174.48 652.71,171.98" fill="#1f4fba"/>
<polygon points="667.11,170.62 669.61,173.12 667.11,175.62 664.61,173.12" fill="#1f4fba"/>
<path d="M381.50 162.20 C383.48 159.13 389.43 148.83 393.40 143.80 C397.37 138.77 401.33 134.60 405.30 132.01 C409.27 129.43 413.23 128.99 417.20 128.28 C421.17 127.56 425.13 126.93 429.10 127.70 C433.07 128.47 437.04 130.48 441.00 132.88 C444.97 135.27 448.94 140.49 452.90 142.08 C456.87 143.66 460.84 143.56 464.80 142.36 C468.77 141.16 472.74 135.89 476.70 134.89 C480.67 133.88 484.64 134.89 488.60 136.33 C492.57 137.76 496.54 140.78 500.50 143.51 C504.47 146.24 508.44 151.32 512.40 152.71 C516.37 154.10 520.34 151.75 524.30 151.85 C528.27 151.95 532.24 153.10 536.21 153.29 C540.17 153.48 544.14 153.00 548.11 153.00 C552.07 153.00 556.04 152.62 560.01 153.29 C563.97 153.96 567.94 157.22 571.91 157.03 C575.87 156.83 579.84 153.24 583.81 152.14 C587.77 151.04 591.74 149.89 595.71 150.41 C599.67 150.94 603.64 152.90 607.61 155.30 C611.57 157.70 615.54 162.73 619.51 164.79 C623.47 166.85 627.44 167.23 631.41 167.66 C635.38 168.09 639.34 167.04 643.31 167.38 C647.28 167.71 651.24 169.20 655.21 169.68 C659.18 170.15 663.14 169.53 667.11 170.25 C671.08 170.97 677.03 173.36 679.01 173.99" fill="none" stroke="#2a26b6" stroke-width="0.9" stroke-dasharray="1 1"/>
<rect x="379.55" y="160.25" width="3.90" height="3.90" fill="#2a26b6"/>
<rect x="391.45" y="141.85" width="3.90" height="3.90" fill="#2a26b6"/>
<rect x="403.35" y="130.06" width="3.90" height="3.90" fill="#2a26b6"/>
<rect x="415.25" y="126.33" width="3.90" height="3.90" fill="#2a26b6"/>
<rect x="427.15" y="125.75" width="3.90" height="3.90" fill="#2a26b6"/>
<rect x="439.05" y="130.93" width="3.90" height="3.90" fill="#2a26b6"/>
<rect x="450.95" y="140.13" width="3.90" height="3.90" fill="#2a26b6"/>
<rect x="462.85" y="140.41" width="3.90" height="3.90" fill="#2a26b6"/>
<rect x="474.75" y="132.94" width="3.90" height="3.90" fill="#2a26b6"/>
<rect x="486.65" y="134.38" width="3.90" height="3.90" fill="#2a26b6"/>
<rect x="498.55" y="141.56" width="3.90" height="3.90" fill="#2a26b6"/>
<rect x="510.45" y="150.76" width="3.90" height="3.90" fill="#2a26b6"/>
<rect x="522.35" y="149.90" width="3.90" height="3.90" fill="#2a26b6"/>
<rect x="534.26" y="151.34" width="3.90" height="3.90" fill="#2a26b6"/>
<rect x="546.16" y="151.05" width="3.90" height="3.90" fill="#2a26b6"/>
<rect x="558.06" y="151.34" width="3.90" height="3.90" fill="#2a26b6"/>
<rect x="569.96" y="155.08" width="3.90" height="3.90" fill="#2a26b6"/>
<rect x="581.86" y="150.19" width="3.90" height="3.90" fill="#2a26b6"/>
<rect x="593.76" y="148.46" width="3.90" height="3.90" fill="#2a26b6"/>
<rect x="605.66" y="153.35" width="3.90" height="3.90" fill="#2a26b6"/>
<rect x="617.56" y="162.84" width="3.90" height="3.90" fill="#2a26b6"/>
<rect x="629.46" y="165.71" width="3.90" height="3.90" fill="#2a26b6"/>
<rect x="641.36" y="165.43" width="3.90" height="3.90" fill="#2a26b6"/>
<rect x="653.26" y="167.73" width="3.90" height="3.90" fill="#2a26b6"/>
<rect x="665.16" y="168.30" width="3.90" height="3.90" fill="#2a26b6"/>
<line x1="386.00" y1="12.80" x2="398.00" y2="12.80" stroke="#1a1a1a" stroke-width="1.3" stroke-dasharray="1 1"/>
<text x="403.60" y="15.30" font-family="Liberation Sans" font-size="7.0" font-weight="normal" fill="#333" text-anchor="start" textLength="25.30" lengthAdjust="spacingAndGlyphs" stroke="#333" stroke-width="0.12">CTATATA</text>
<text x="433.00" y="15.30" font-family="Liberation Sans" font-size="7.0" font-weight="normal" fill="#333" text-anchor="start" textLength="25.30" lengthAdjust="spacingAndGlyphs" stroke="#333" stroke-width="0.12">TATATAG</text>
<line x1="386.00" y1="21.52" x2="398.00" y2="21.52" stroke="#2b93f5" stroke-width="1.3" stroke-dasharray="1 1"/>
<circle cx="392.70" cy="21.52" r="1.99" fill="#2b93f5"/>
<text x="403.60" y="24.02" font-family="Liberation Sans" font-size="7.0" font-weight="normal" fill="#333" text-anchor="start" textLength="25.30" lengthAdjust="spacingAndGlyphs" stroke="#333" stroke-width="0.12">GTATATA</text>
<text x="433.00" y="24.02" font-family="Liberation Sans" font-size="7.0" font-weight="normal" fill="#333" text-anchor="start" textLength="25.30" lengthAdjust="spacingAndGlyphs" stroke="#333" stroke-width="0.12">TATATAC</text>
<line x1="386.00" y1="30.24" x2="398.00" y2="30.24" stroke="#3d7fdc" stroke-width="1.3" stroke-dasharray="1 1"/>
<rect x="391.08" y="28.63" width="3.23" height="3.23" fill="#3d7fdc"/>
<text x="403.60" y="32.74" font-family="Liberation Sans" font-size="7.0" font-weight="normal" fill="#333" text-anchor="start" textLength="25.30" lengthAdjust="spacingAndGlyphs" stroke="#333" stroke-width="0.12">ATATATA</text>
<text x="433.00" y="32.74" font-family="Liberation Sans" font-size="7.0" font-weight="normal" fill="#333" text-anchor="start" textLength="25.30" lengthAdjust="spacingAndGlyphs" stroke="#333" stroke-width="0.12">TATATAT</text>
<line x1="386.00" y1="38.96" x2="398.00" y2="38.96" stroke="#2a26b6" stroke-width="1.3" stroke-dasharray="1 1"/>
<rect x="390.85" y="37.11" width="3.70" height="3.70" fill="#2a26b6"/>
<text x="403.60" y="41.46" font-family="Liberation Sans" font-size="7.0" font-weight="normal" fill="#333" text-anchor="start" textLength="25.30" lengthAdjust="spacingAndGlyphs" stroke="#333" stroke-width="0.12">ATACATG</text>
<text x="433.00" y="41.46" font-family="Liberation Sans" font-size="7.0" font-weight="normal" fill="#333" text-anchor="start" textLength="25.30" lengthAdjust="spacingAndGlyphs" stroke="#333" stroke-width="0.12">CATGTAT</text>
<line x1="386.00" y1="47.68" x2="398.00" y2="47.68" stroke="#2a3ef0" stroke-width="1.3" stroke-dasharray="1 1"/>
<polygon points="390.90,45.69 394.89,47.68 390.90,49.68" fill="#2a3ef0"/>
<text x="403.60" y="50.18" font-family="Liberation Sans" font-size="7.0" font-weight="normal" fill="#333" text-anchor="start" textLength="25.30" lengthAdjust="spacingAndGlyphs" stroke="#333" stroke-width="0.12">GCATATA</text>
<text x="433.00" y="50.18" font-family="Liberation Sans" font-size="7.0" font-weight="normal" fill="#333" text-anchor="start" textLength="25.30" lengthAdjust="spacingAndGlyphs" stroke="#333" stroke-width="0.12">TATATGC</text>
<line x1="386.00" y1="56.40" x2="398.00" y2="56.40" stroke="#1f4fba" stroke-width="1.3" stroke-dasharray="1 1"/>
<polygon points="392.70,54.03 395.07,56.40 392.70,58.78 390.32,56.40" fill="#1f4fba"/>
<text x="403.60" y="58.90" font-family="Liberation Sans" font-size="7.0" font-weight="normal" fill="#333" text-anchor="start" textLength="25.30" lengthAdjust="spacingAndGlyphs" stroke="#333" stroke-width="0.12">GTGTATA</text>
<text x="433.00" y="58.90" font-family="Liberation Sans" font-size="7.0" font-weight="normal" fill="#333" text-anchor="start" textLength="25.30" lengthAdjust="spacingAndGlyphs" stroke="#333" stroke-width="0.12">TATACAC</text>
<line x1="382.50" y1="220.60" x2="382.50" y2="393.80" stroke="#c4c4c4" stroke-width="1"/>
<line x1="382.20" y1="394.00" x2="679.40" y2="394.00" stroke="#c4c4c4" stroke-width="1.2"/>
<text x="379.20" y="396.55" font-family="Liberation Sans" font-size="8.6" font-weight="normal" fill="#111" text-anchor="end">0</text>
<text x="379.20" y="367.85" font-family="Liberation Sans" font-size="8.6" font-weight="normal" fill="#111" text-anchor="end">1</text>
<text x="379.20" y="339.15" font-family="Liberation Sans" font-size="8.6" font-weight="normal" fill="#111" text-anchor="end">2</text>
<text x="379.20" y="310.45" font-family="Liberation Sans" font-size="8.6" font-weight="normal" fill="#111" text-anchor="end">3</text>
<text x="379.20" y="281.75" font-family="Liberation Sans" font-size="8.6" font-weight="normal" fill="#111" text-anchor="end">4</text>
<text x="379.20" y="253.05" font-family="Liberation Sans" font-size="8.6" font-weight="normal" fill="#111" text-anchor="end">5</text>
<text x="379.20" y="224.35" font-family="Liberation Sans" font-size="8.6" font-weight="normal" fill="#111" text-anchor="end">6</text>
<text x="381.50" y="403.70" font-family="Liberation Sans" font-size="8.7" font-weight="normal" fill="#111" text-anchor="middle">-250</text>
<text x="411.25" y="403.70" font-family="Liberation Sans" font-size="8.7" font-weight="normal" fill="#111" text-anchor="middle">-220</text>
<text x="441.00" y="403.70" font-family="Liberation Sans" font-size="8.7" font-weight="normal" fill="#111" text-anchor="middle">-190</text>
<text x="470.75" y="403.70" font-family="Liberation Sans" font-size="8.7" font-weight="normal" fill="#111" text-anchor="middle">-160</text>
<text x="500.50" y="403.70" font-family="Liberation Sans" font-size="8.7" font-weight="normal" fill="#111" text-anchor="middle">-130</text>
<text x="530.25" y="403.70" font-family="Liberation Sans" font-size="8.7" font-weight="normal" fill="#111" text-anchor="middle">-100</text>
<text x="560.01" y="403.70" font-family="Liberation Sans" font-size="8.7" font-weight="normal" fill="#111" text-anchor="middle">-70</text>
<text x="589.76" y="403.70" font-family="Liberation Sans" font-size="8.7" font-weight="normal" fill="#111" text-anchor="middle">-40</text>
<text x="619.51" y="403.70" font-family="Liberation Sans" font-size="8.7" font-weight="normal" fill="#111" text-anchor="middle">-10</text>
<text x="649.26" y="403.70" font-family="Liberation Sans" font-size="8.7" font-weight="normal" fill="#111" text-anchor="middle">+20</text>
<text x="679.01" y="403.70" font-family="Liberation Sans" font-size="8.7" font-weight="normal" fill="#111" text-anchor="middle">+50</text>
<text x="471.70" y="413.70" font-family="Liberation Sans" font-size="9.0" font-weight="normal" fill="#111" text-anchor="start" textLength="118.90" lengthAdjust="spacingAndGlyphs">Position Relative to TSS (+1)</text>
<text transform="translate(370.90,323.80) rotate(-90)" font-family="Liberation Sans" font-size="9" fill="#111" textLength="31.6" lengthAdjust="spacingAndGlyphs">Density</text>
<path d="M382.20 386.91 C384.18 384.71 390.13 376.77 394.10 373.71 C398.07 370.65 402.03 369.64 406.00 368.54 C409.97 367.44 414.93 367.44 417.90 367.11 C420.88 366.77 421.87 366.39 423.85 366.54 C425.83 366.68 426.83 366.92 429.80 367.97 C432.78 369.02 437.74 372.47 441.70 372.85 C445.67 373.23 449.64 370.12 453.60 370.27 C457.57 370.41 461.54 372.61 465.50 373.71 C469.47 374.81 473.44 376.05 477.40 376.87 C481.37 377.68 485.34 378.68 489.30 378.59 C493.27 378.49 497.24 377.01 501.20 376.29 C505.17 375.58 509.14 373.95 513.10 374.28 C517.07 374.62 521.04 377.30 525.00 378.30 C528.97 379.31 532.94 380.12 536.91 380.31 C540.87 380.50 544.84 380.65 548.81 379.45 C552.77 378.25 559.56 373.81 560.71 373.14 C561.86 372.47 555.12 376.05 555.70 375.43 C556.28 374.81 562.00 371.70 564.20 369.41 C566.40 367.11 567.08 365.53 568.90 361.66 C570.72 357.78 573.58 350.85 575.10 346.16 C576.62 341.47 577.20 338.22 578.00 333.53 C578.80 328.84 579.12 323.82 579.90 318.03 C580.68 312.24 581.72 305.16 582.70 298.80 C583.68 292.44 584.77 285.74 585.80 279.86 C586.83 273.98 588.10 268.24 588.90 263.50 C589.70 258.77 590.03 255.42 590.60 251.45 C591.17 247.48 591.68 243.65 592.30 239.68 C592.92 235.71 593.52 230.64 594.30 227.63 C595.08 224.61 596.12 221.60 597.00 221.60 C597.88 221.60 598.88 224.61 599.60 227.63 C600.32 230.64 600.78 235.71 601.30 239.68 C601.82 243.65 602.25 247.48 602.70 251.45 C603.15 255.42 603.55 258.77 604.00 263.50 C604.45 268.24 604.93 273.98 605.40 279.86 C605.87 285.74 606.33 292.44 606.80 298.80 C607.27 305.16 607.72 311.67 608.20 318.03 C608.68 324.39 609.12 329.70 609.70 336.97 C610.28 344.24 610.60 354.96 611.70 361.66 C612.80 368.35 614.77 373.28 616.30 377.15 C617.83 381.03 618.93 383.04 620.90 384.90 C622.87 386.77 624.95 387.53 628.14 388.35 C631.33 389.16 636.08 389.45 640.04 389.78 C644.01 390.12 647.98 390.16 651.94 390.36 C655.91 390.55 659.21 390.60 663.84 390.93 C668.47 391.26 677.07 392.13 679.71 392.37" fill="none" stroke="#1a1a1a" stroke-width="0.9" stroke-dasharray="1 1"/>
<path d="M382.20 387.49 C384.68 386.10 392.12 381.22 397.08 379.16 C402.03 377.11 406.99 375.29 411.95 375.14 C416.91 375.00 421.87 377.68 426.83 378.30 C431.79 378.92 436.74 378.78 441.70 378.88 C446.66 378.97 451.62 379.78 456.58 378.88 C461.54 377.97 466.49 374.71 471.45 373.42 C476.41 372.13 481.37 371.17 486.33 371.13 C491.29 371.08 496.25 373.33 501.20 373.14 C506.16 372.94 511.12 369.98 516.08 369.98 C521.04 369.98 526.00 373.28 530.95 373.14 C535.91 372.99 540.87 370.89 545.83 369.12 C550.79 367.35 555.75 363.43 560.71 362.52 C565.66 361.61 570.62 363.14 575.58 363.67 C580.54 364.19 585.50 366.73 590.46 365.67 C595.42 364.62 600.37 360.46 605.33 357.35 C610.29 354.24 615.25 348.69 620.21 347.02 C625.17 345.34 630.12 349.84 635.08 347.31 C640.04 344.77 645.00 333.34 649.96 331.81 C654.92 330.28 659.88 331.28 664.83 338.12 C669.79 344.96 677.23 367.06 679.71 372.85" fill="none" stroke="#e0406a" stroke-width="0.9" stroke-dasharray="1 1"/>
<circle cx="382.20" cy="387.49" r="2.10" fill="#e0406a"/>
<circle cx="397.08" cy="379.16" r="2.10" fill="#e0406a"/>
<circle cx="411.95" cy="375.14" r="2.10" fill="#e0406a"/>
<circle cx="426.83" cy="378.30" r="2.10" fill="#e0406a"/>
<circle cx="441.70" cy="378.88" r="2.10" fill="#e0406a"/>
<circle cx="456.58" cy="378.88" r="2.10" fill="#e0406a"/>
<circle cx="471.45" cy="373.42" r="2.10" fill="#e0406a"/>
<circle cx="486.33" cy="371.13" r="2.10" fill="#e0406a"/>
<circle cx="501.20" cy="373.14" r="2.10" fill="#e0406a"/>
<circle cx="516.08" cy="369.98" r="2.10" fill="#e0406a"/>
<circle cx="530.95" cy="373.14" r="2.10" fill="#e0406a"/>
<circle cx="545.83" cy="369.12" r="2.10" fill="#e0406a"/>
<circle cx="560.71" cy="362.52" r="2.10" fill="#e0406a"/>
<circle cx="575.58" cy="363.67" r="2.10" fill="#e0406a"/>
<circle cx="590.46" cy="365.67" r="2.10" fill="#e0406a"/>
<circle cx="605.33" cy="357.35" r="2.10" fill="#e0406a"/>
<circle cx="620.21" cy="347.02" r="2.10" fill="#e0406a"/>
<circle cx="635.08" cy="347.31" r="2.10" fill="#e0406a"/>
<circle cx="649.96" cy="331.81" r="2.10" fill="#e0406a"/>
<circle cx="664.83" cy="338.12" r="2.10" fill="#e0406a"/>
<path d="M382.20 380.88 C384.68 377.20 392.12 361.56 397.08 358.79 C402.03 356.01 406.99 364.24 411.95 364.24 C416.91 364.24 421.87 359.31 426.83 358.79 C431.79 358.26 436.74 360.41 441.70 361.08 C446.66 361.75 451.62 362.71 456.58 362.80 C461.54 362.90 466.49 362.33 471.45 361.66 C476.41 360.99 481.37 359.60 486.33 358.79 C491.29 357.97 496.25 356.20 501.20 356.78 C506.16 357.35 511.12 361.46 516.08 362.23 C521.04 363.00 526.00 360.99 530.95 361.37 C535.91 361.75 540.87 364.24 545.83 364.53 C550.79 364.81 555.75 363.00 560.71 363.09 C565.66 363.19 570.62 364.29 575.58 365.10 C580.54 365.91 585.50 366.92 590.46 367.97 C595.42 369.02 600.37 371.51 605.33 371.41 C610.29 371.32 615.25 368.21 620.21 367.40 C625.17 366.58 630.12 364.86 635.08 366.54 C640.04 368.21 645.00 376.20 649.96 377.44 C654.92 378.68 659.88 372.71 664.83 374.00 C669.79 375.29 677.23 383.32 679.71 385.19" fill="none" stroke="#ff2424" stroke-width="0.9" stroke-dasharray="1 1"/>
<path d="M380.55 379.24 L383.85 382.53 M383.85 379.24 L380.55 382.53" stroke="#ff2424" stroke-width="1.30"/>
<path d="M395.43 357.14 L398.73 360.44 M398.73 357.14 L395.43 360.44" stroke="#ff2424" stroke-width="1.30"/>
<path d="M410.30 362.59 L413.60 365.89 M413.60 362.59 L410.30 365.89" stroke="#ff2424" stroke-width="1.30"/>
<path d="M425.18 357.14 L428.48 360.44 M428.48 357.14 L425.18 360.44" stroke="#ff2424" stroke-width="1.30"/>
<path d="M440.05 359.43 L443.35 362.73 M443.35 359.43 L440.05 362.73" stroke="#ff2424" stroke-width="1.30"/>
<path d="M454.93 361.15 L458.23 364.45 M458.23 361.15 L454.93 364.45" stroke="#ff2424" stroke-width="1.30"/>
<path d="M469.80 360.01 L473.10 363.31 M473.10 360.01 L469.80 363.31" stroke="#ff2424" stroke-width="1.30"/>
<path d="M484.68 357.14 L487.98 360.44 M487.98 357.14 L484.68 360.44" stroke="#ff2424" stroke-width="1.30"/>
<path d="M499.55 355.13 L502.85 358.43 M502.85 355.13 L499.55 358.43" stroke="#ff2424" stroke-width="1.30"/>
<path d="M514.43 360.58 L517.73 363.88 M517.73 360.58 L514.43 363.88" stroke="#ff2424" stroke-width="1.30"/>
<path d="M529.30 359.72 L532.60 363.02 M532.60 359.72 L529.30 363.02" stroke="#ff2424" stroke-width="1.30"/>
<path d="M544.18 362.88 L547.48 366.18 M547.48 362.88 L544.18 366.18" stroke="#ff2424" stroke-width="1.30"/>
<path d="M559.06 361.44 L562.36 364.74 M562.36 361.44 L559.06 364.74" stroke="#ff2424" stroke-width="1.30"/>
<path d="M573.93 363.45 L577.23 366.75 M577.23 363.45 L573.93 366.75" stroke="#ff2424" stroke-width="1.30"/>
<path d="M588.81 366.32 L592.11 369.62 M592.11 366.32 L588.81 369.62" stroke="#ff2424" stroke-width="1.30"/>
<path d="M603.68 369.76 L606.98 373.06 M606.98 369.76 L603.68 373.06" stroke="#ff2424" stroke-width="1.30"/>
<path d="M618.56 365.75 L621.86 369.05 M621.86 365.75 L618.56 369.05" stroke="#ff2424" stroke-width="1.30"/>
<path d="M633.43 364.89 L636.73 368.19 M636.73 364.89 L633.43 368.19" stroke="#ff2424" stroke-width="1.30"/>
<path d="M648.31 375.79 L651.61 379.09 M651.61 375.79 L648.31 379.09" stroke="#ff2424" stroke-width="1.30"/>
<path d="M663.18 372.35 L666.48 375.65 M666.48 372.35 L663.18 375.65" stroke="#ff2424" stroke-width="1.30"/>
<path d="M382.20 383.75 C384.68 378.88 392.12 359.36 397.08 354.48 C402.03 349.60 406.99 354.67 411.95 354.48 C416.91 354.29 421.87 353.48 426.83 353.33 C431.79 353.19 436.74 353.86 441.70 353.62 C446.66 353.38 451.62 351.90 456.58 351.90 C461.54 351.90 466.49 353.00 471.45 353.62 C476.41 354.24 481.37 354.86 486.33 355.63 C491.29 356.39 496.25 357.69 501.20 358.21 C506.16 358.74 511.12 358.69 516.08 358.79 C521.04 358.88 526.00 358.74 530.95 358.79 C535.91 358.83 540.87 358.36 545.83 359.07 C550.79 359.79 555.75 361.75 560.71 363.09 C565.66 364.43 570.62 365.48 575.58 367.11 C580.54 368.74 585.50 371.13 590.46 372.85 C595.42 374.57 600.37 376.01 605.33 377.44 C610.29 378.88 615.25 380.65 620.21 381.46 C625.17 382.27 630.12 381.94 635.08 382.32 C640.04 382.70 645.00 382.80 649.96 383.75 C654.92 384.71 659.88 386.86 664.83 388.06 C669.79 389.26 677.23 390.45 679.71 390.93" fill="none" stroke="#f0665a" stroke-width="0.9" stroke-dasharray="1 1"/>
<rect x="380.25" y="381.81" width="3.90" height="3.90" fill="#f0665a"/>
<rect x="395.13" y="352.53" width="3.90" height="3.90" fill="#f0665a"/>
<rect x="410.00" y="352.53" width="3.90" height="3.90" fill="#f0665a"/>
<rect x="424.88" y="351.38" width="3.90" height="3.90" fill="#f0665a"/>
<rect x="439.75" y="351.67" width="3.90" height="3.90" fill="#f0665a"/>
<rect x="454.63" y="349.95" width="3.90" height="3.90" fill="#f0665a"/>
<rect x="469.50" y="351.67" width="3.90" height="3.90" fill="#f0665a"/>
<rect x="484.38" y="353.68" width="3.90" height="3.90" fill="#f0665a"/>
<rect x="499.25" y="356.26" width="3.90" height="3.90" fill="#f0665a"/>
<rect x="514.13" y="356.84" width="3.90" height="3.90" fill="#f0665a"/>
<rect x="529.00" y="356.84" width="3.90" height="3.90" fill="#f0665a"/>
<rect x="543.88" y="357.12" width="3.90" height="3.90" fill="#f0665a"/>
<rect x="558.76" y="361.14" width="3.90" height="3.90" fill="#f0665a"/>
<rect x="573.63" y="365.16" width="3.90" height="3.90" fill="#f0665a"/>
<rect x="588.51" y="370.90" width="3.90" height="3.90" fill="#f0665a"/>
<rect x="603.38" y="375.49" width="3.90" height="3.90" fill="#f0665a"/>
<rect x="618.26" y="379.51" width="3.90" height="3.90" fill="#f0665a"/>
<rect x="633.13" y="380.37" width="3.90" height="3.90" fill="#f0665a"/>
<rect x="648.01" y="381.81" width="3.90" height="3.90" fill="#f0665a"/>
<rect x="662.88" y="386.11" width="3.90" height="3.90" fill="#f0665a"/>
<path d="M382.20 382.32 C384.68 378.01 392.12 361.80 397.08 356.49 C402.03 351.18 406.99 350.99 411.95 350.46 C416.91 349.94 421.87 352.57 426.83 353.33 C431.79 354.10 436.74 354.91 441.70 355.06 C446.66 355.20 451.62 354.62 456.58 354.19 C461.54 353.76 466.49 352.66 471.45 352.47 C476.41 352.28 481.37 353.00 486.33 353.05 C491.29 353.09 496.25 351.99 501.20 352.76 C506.16 353.52 511.12 356.49 516.08 357.64 C521.04 358.79 526.00 358.64 530.95 359.65 C535.91 360.65 540.87 362.04 545.83 363.67 C550.79 365.29 555.75 367.25 560.71 369.41 C565.66 371.56 570.62 376.10 575.58 376.58 C580.54 377.06 585.50 374.28 590.46 372.28 C595.42 370.27 600.37 363.95 605.33 364.53 C610.29 365.10 615.25 372.99 620.21 375.72 C625.17 378.45 630.12 379.55 635.08 380.88 C640.04 382.22 645.00 382.80 649.96 383.75 C654.92 384.71 659.88 385.43 664.83 386.62 C669.79 387.82 677.23 390.21 679.71 390.93" fill="none" stroke="#c43a3a" stroke-width="0.9" stroke-dasharray="1 1"/>
<polygon points="380.31,380.22 384.51,382.32 380.31,384.42" fill="#c43a3a"/>
<polygon points="395.19,354.39 399.39,356.49 395.19,358.59" fill="#c43a3a"/>
<polygon points="410.06,348.36 414.26,350.46 410.06,352.56" fill="#c43a3a"/>
<polygon points="424.94,351.23 429.14,353.33 424.94,355.43" fill="#c43a3a"/>
<polygon points="439.81,352.95 444.01,355.06 439.81,357.16" fill="#c43a3a"/>
<polygon points="454.69,352.09 458.89,354.19 454.69,356.29" fill="#c43a3a"/>
<polygon points="469.56,350.37 473.76,352.47 469.56,354.57" fill="#c43a3a"/>
<polygon points="484.44,350.95 488.64,353.05 484.44,355.15" fill="#c43a3a"/>
<polygon points="499.31,350.66 503.51,352.76 499.31,354.86" fill="#c43a3a"/>
<polygon points="514.19,355.54 518.39,357.64 514.19,359.74" fill="#c43a3a"/>
<polygon points="529.06,357.55 533.26,359.65 529.06,361.75" fill="#c43a3a"/>
<polygon points="543.94,361.56 548.14,363.67 543.94,365.77" fill="#c43a3a"/>
<polygon points="558.82,367.31 563.02,369.41 558.82,371.51" fill="#c43a3a"/>
<polygon points="573.69,374.48 577.89,376.58 573.69,378.68" fill="#c43a3a"/>
<polygon points="588.57,370.18 592.77,372.28 588.57,374.38" fill="#c43a3a"/>
<polygon points="603.44,362.43 607.64,364.53 603.44,366.63" fill="#c43a3a"/>
<polygon points="618.32,373.62 622.52,375.72 618.32,377.82" fill="#c43a3a"/>
<polygon points="633.19,378.78 637.39,380.88 633.19,382.99" fill="#c43a3a"/>
<polygon points="648.07,381.65 652.27,383.75 648.07,385.86" fill="#c43a3a"/>
<polygon points="662.94,384.52 667.14,386.62 662.94,388.73" fill="#c43a3a"/>
<path d="M382.20 375.14 C384.68 369.93 392.12 350.42 397.08 343.86 C402.03 337.31 406.99 335.16 411.95 335.83 C416.91 336.50 421.87 344.77 426.83 347.88 C431.79 350.99 436.74 353.14 441.70 354.48 C446.66 355.82 451.62 355.92 456.58 355.92 C461.54 355.92 466.49 354.91 471.45 354.48 C476.41 354.05 481.37 353.67 486.33 353.33 C491.29 353.00 496.25 350.08 501.20 352.47 C506.16 354.86 511.12 365.24 516.08 367.68 C521.04 370.12 526.00 366.20 530.95 367.11 C535.91 368.02 540.87 372.28 545.83 373.14 C550.79 374.00 555.75 372.66 560.71 372.28 C565.66 371.89 570.62 371.32 575.58 370.84 C580.54 370.36 585.50 368.88 590.46 369.41 C595.42 369.93 600.37 371.32 605.33 374.00 C610.29 376.68 615.25 384.28 620.21 385.48 C625.17 386.67 630.12 381.70 635.08 381.17 C640.04 380.65 645.00 381.51 649.96 382.32 C654.92 383.13 659.88 384.62 664.83 386.05 C669.79 387.49 677.23 390.12 679.71 390.93" fill="none" stroke="#7a2828" stroke-width="0.9" stroke-dasharray="1 1"/>
<polygon points="382.20,372.64 384.70,375.14 382.20,377.64 379.70,375.14" fill="#7a2828"/>
<polygon points="397.08,341.36 399.58,343.86 397.08,346.36 394.58,343.86" fill="#7a2828"/>
<polygon points="411.95,333.33 414.45,335.83 411.95,338.33 409.45,335.83" fill="#7a2828"/>
<polygon points="426.83,345.38 429.33,347.88 426.83,350.38 424.33,347.88" fill="#7a2828"/>
<polygon points="441.70,351.98 444.20,354.48 441.70,356.98 439.20,354.48" fill="#7a2828"/>
<polygon points="456.58,353.42 459.08,355.92 456.58,358.42 454.08,355.92" fill="#7a2828"/>
<polygon points="471.45,351.98 473.95,354.48 471.45,356.98 468.95,354.48" fill="#7a2828"/>
<polygon points="486.33,350.83 488.83,353.33 486.33,355.83 483.83,353.33" fill="#7a2828"/>
<polygon points="501.20,349.97 503.70,352.47 501.20,354.97 498.70,352.47" fill="#7a2828"/>
<polygon points="516.08,365.18 518.58,367.68 516.08,370.18 513.58,367.68" fill="#7a2828"/>
<polygon points="530.95,364.61 533.45,367.11 530.95,369.61 528.45,367.11" fill="#7a2828"/>
<polygon points="545.83,370.64 548.33,373.14 545.83,375.64 543.33,373.14" fill="#7a2828"/>
<polygon points="560.71,369.78 563.21,372.28 560.71,374.78 558.21,372.28" fill="#7a2828"/>
<polygon points="575.58,368.34 578.08,370.84 575.58,373.34 573.08,370.84" fill="#7a2828"/>
<polygon points="590.46,366.91 592.96,369.41 590.46,371.91 587.96,369.41" fill="#7a2828"/>
<polygon points="605.33,371.50 607.83,374.00 605.33,376.50 602.83,374.00" fill="#7a2828"/>
<polygon points="620.21,382.98 622.71,385.48 620.21,387.98 617.71,385.48" fill="#7a2828"/>
<polygon points="635.08,378.67 637.58,381.17 635.08,383.67 632.58,381.17" fill="#7a2828"/>
<polygon points="649.96,379.82 652.46,382.32 649.96,384.82 647.46,382.32" fill="#7a2828"/>
<polygon points="664.83,383.55 667.33,386.05 664.83,388.55 662.33,386.05" fill="#7a2828"/>
<line x1="387.00" y1="228.80" x2="399.00" y2="228.80" stroke="#1a1a1a" stroke-width="1.3" stroke-dasharray="1 1"/>
<text x="404.50" y="231.30" font-family="Liberation Sans" font-size="7.0" font-weight="normal" fill="#333" text-anchor="start" textLength="25.30" lengthAdjust="spacingAndGlyphs" stroke="#333" stroke-width="0.12">CTATATA</text>
<text x="433.90" y="231.30" font-family="Liberation Sans" font-size="7.0" font-weight="normal" fill="#333" text-anchor="start" textLength="25.30" lengthAdjust="spacingAndGlyphs" stroke="#333" stroke-width="0.12">TATATAG</text>
<line x1="387.00" y1="237.52" x2="399.00" y2="237.52" stroke="#e0406a" stroke-width="1.3" stroke-dasharray="1 1"/>
<circle cx="393.60" cy="237.52" r="1.99" fill="#e0406a"/>
<text x="404.50" y="240.02" font-family="Liberation Sans" font-size="7.0" font-weight="normal" fill="#333" text-anchor="start" textLength="25.30" lengthAdjust="spacingAndGlyphs" stroke="#333" stroke-width="0.12">CTTCCGC</text>
<text x="433.90" y="240.02" font-family="Liberation Sans" font-size="7.0" font-weight="normal" fill="#333" text-anchor="start" textLength="25.30" lengthAdjust="spacingAndGlyphs" stroke="#333" stroke-width="0.12">GCGGAAG</text>
<line x1="387.00" y1="246.24" x2="399.00" y2="246.24" stroke="#ff2424" stroke-width="1.3" stroke-dasharray="1 1"/>
<path d="M392.03 244.67 L395.17 247.81 M395.17 244.67 L392.03 247.81" stroke="#ff2424" stroke-width="1.23"/>
<text x="404.50" y="248.74" font-family="Liberation Sans" font-size="7.0" font-weight="normal" fill="#333" text-anchor="start" textLength="25.30" lengthAdjust="spacingAndGlyphs" stroke="#333" stroke-width="0.12">ACTCGTA</text>
<text x="433.90" y="248.74" font-family="Liberation Sans" font-size="7.0" font-weight="normal" fill="#333" text-anchor="start" textLength="25.30" lengthAdjust="spacingAndGlyphs" stroke="#333" stroke-width="0.12">TACGAGT</text>
<line x1="387.00" y1="254.96" x2="399.00" y2="254.96" stroke="#f0665a" stroke-width="1.3" stroke-dasharray="1 1"/>
<rect x="391.75" y="253.11" width="3.70" height="3.70" fill="#f0665a"/>
<text x="404.50" y="257.46" font-family="Liberation Sans" font-size="7.0" font-weight="normal" fill="#333" text-anchor="start" textLength="25.30" lengthAdjust="spacingAndGlyphs" stroke="#333" stroke-width="0.12">AAAAAAA</text>
<text x="433.90" y="257.46" font-family="Liberation Sans" font-size="7.0" font-weight="normal" fill="#333" text-anchor="start" textLength="25.30" lengthAdjust="spacingAndGlyphs" stroke="#333" stroke-width="0.12">TTTTTTT</text>
<line x1="387.00" y1="263.68" x2="399.00" y2="263.68" stroke="#c43a3a" stroke-width="1.3" stroke-dasharray="1 1"/>
<polygon points="391.80,261.69 395.79,263.68 391.80,265.68" fill="#c43a3a"/>
<text x="404.50" y="266.18" font-family="Liberation Sans" font-size="7.0" font-weight="normal" fill="#333" text-anchor="start" textLength="25.30" lengthAdjust="spacingAndGlyphs" stroke="#333" stroke-width="0.12">GAATTAA</text>
<text x="433.90" y="266.18" font-family="Liberation Sans" font-size="7.0" font-weight="normal" fill="#333" text-anchor="start" textLength="25.30" lengthAdjust="spacingAndGlyphs" stroke="#333" stroke-width="0.12">TTAATTC</text>
<line x1="387.00" y1="272.40" x2="399.00" y2="272.40" stroke="#7a2828" stroke-width="1.3" stroke-dasharray="1 1"/>
<polygon points="393.60,270.03 395.97,272.40 393.60,274.78 391.22,272.40" fill="#7a2828"/>
<text x="404.50" y="274.90" font-family="Liberation Sans" font-size="7.0" font-weight="normal" fill="#333" text-anchor="start" textLength="25.30" lengthAdjust="spacingAndGlyphs" stroke="#333" stroke-width="0.12">ATTTGAA</text>
<text x="433.90" y="274.90" font-family="Liberation Sans" font-size="7.0" font-weight="normal" fill="#333" text-anchor="start" textLength="25.30" lengthAdjust="spacingAndGlyphs" stroke="#333" stroke-width="0.12">TTCAAAT</text>
</svg></body></html>
